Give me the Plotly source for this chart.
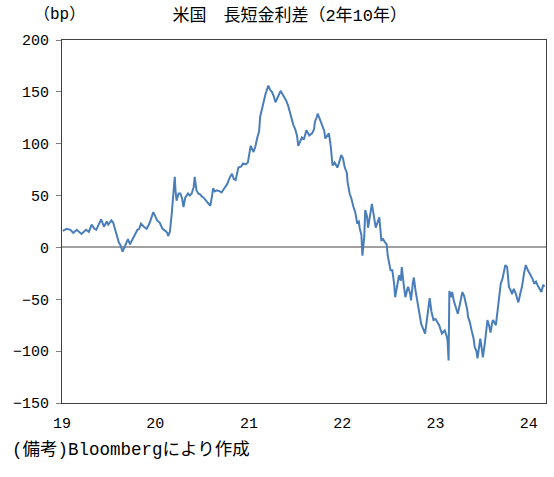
import plotly.graph_objects as go

# 米国 2年10年 長短金利差 (bp)
dates = [
    "2019-01-04", "2019-01-19", "2019-02-03", "2019-02-14", "2019-02-28", "2019-03-18",
    "2019-04-05", "2019-04-16", "2019-04-27", "2019-05-08", "2019-05-15", "2019-05-26",
    "2019-06-03", "2019-06-14", "2019-06-25", "2019-07-01", "2019-07-13", "2019-07-20",
    "2019-07-27", "2019-08-04", "2019-08-11", "2019-08-18", "2019-08-26", "2019-09-02",
    "2019-09-09", "2019-09-16", "2019-09-24", "2019-10-04", "2019-10-12", "2019-10-23",
    "2019-10-30", "2019-11-06", "2019-11-17", "2019-11-28", "2019-12-09", "2019-12-16",
    "2019-12-24",
    "2020-01-01", "2020-01-08", "2020-01-18", "2020-01-29", "2020-02-09", "2020-02-17",
    "2020-02-20", "2020-02-27", "2020-03-05", "2020-03-10", "2020-03-17", "2020-03-20",
    "2020-03-24", "2020-04-01", "2020-04-08", "2020-04-15", "2020-04-20", "2020-04-27",
    "2020-05-08", "2020-05-15", "2020-05-22", "2020-05-30", "2020-06-03", "2020-06-10",
    "2020-06-17", "2020-06-25", "2020-07-01", "2020-07-08", "2020-07-19", "2020-07-26",
    "2020-08-03", "2020-08-10", "2020-08-14", "2020-08-21", "2020-08-29", "2020-09-09",
    "2020-09-16", "2020-09-27", "2020-10-08", "2020-10-19", "2020-10-27", "2020-11-03",
    "2020-11-10", "2020-11-21", "2020-12-02", "2020-12-09", "2020-12-20", "2020-12-28",
    "2021-01-08", "2021-01-19", "2021-01-26", "2021-02-03", "2021-02-10", "2021-02-14",
    "2021-02-21", "2021-02-28", "2021-03-07", "2021-03-18", "2021-03-25", "2021-04-01",
    "2021-04-08", "2021-04-15", "2021-04-22", "2021-05-05", "2021-05-12", "2021-05-19",
    "2021-05-26", "2021-06-03", "2021-06-10", "2021-06-17", "2021-06-24", "2021-07-01",
    "2021-07-08", "2021-07-13", "2021-07-20", "2021-07-27", "2021-08-04", "2021-08-14",
    "2021-08-25", "2021-09-05", "2021-09-13", "2021-09-16", "2021-09-24", "2021-09-27",
    "2021-10-08", "2021-10-15", "2021-10-23", "2021-10-27", "2021-11-03", "2021-11-10",
    "2021-11-17", "2021-11-24", "2021-12-02", "2021-12-13", "2021-12-20", "2021-12-28",
    "2022-01-04", "2022-01-11", "2022-01-19", "2022-01-22", "2022-01-30", "2022-02-06",
    "2022-02-14", "2022-02-21", "2022-02-28", "2022-03-07", "2022-03-10", "2022-03-17",
    "2022-03-21", "2022-03-28", "2022-04-01", "2022-04-08", "2022-04-12", "2022-04-19",
    "2022-04-27", "2022-05-05", "2022-05-12", "2022-05-19", "2022-05-26", "2022-06-03",
    "2022-06-10", "2022-06-17", "2022-06-24", "2022-06-28", "2022-07-05", "2022-07-09",
    "2022-07-16", "2022-07-23", "2022-07-27", "2022-08-04", "2022-08-11", "2022-08-18",
    "2022-08-22", "2022-08-29", "2022-09-05", "2022-09-13", "2022-09-16", "2022-09-24",
    "2022-09-27", "2022-10-04", "2022-10-08", "2022-10-15", "2022-10-23", "2022-10-30",
    "2022-11-06", "2022-11-13", "2022-11-21", "2022-11-28", "2022-12-05", "2022-12-09",
    "2022-12-16", "2022-12-24",
    "2023-01-01", "2023-01-08", "2023-01-15", "2023-01-26", "2023-02-06", "2023-02-14",
    "2023-02-17", "2023-02-21", "2023-02-24", "2023-03-03", "2023-03-07", "2023-03-14",
    "2023-03-18", "2023-03-29", "2023-04-06", "2023-04-16", "2023-04-23", "2023-04-27",
    "2023-05-05", "2023-05-08", "2023-05-15", "2023-05-22", "2023-05-30", "2023-06-03",
    "2023-06-10", "2023-06-14", "2023-06-21", "2023-06-25", "2023-07-01", "2023-07-05",
    "2023-07-13", "2023-07-16", "2023-07-23", "2023-07-30", "2023-08-04", "2023-08-11",
    "2023-08-14", "2023-08-25", "2023-09-02", "2023-09-09", "2023-09-13", "2023-09-20",
    "2023-09-27", "2023-10-01", "2023-10-08", "2023-10-12", "2023-10-15", "2023-10-23",
    "2023-10-27", "2023-11-03", "2023-11-10", "2023-11-17", "2023-11-21", "2023-11-28",
    "2023-12-05", "2023-12-13", "2023-12-20", "2023-12-28",
    "2024-01-08", "2024-01-15", "2024-01-22", "2024-01-29", "2024-02-05", "2024-02-12",
    "2024-02-19", "2024-02-26", "2024-03-02",
]
spread = [
    16, 18, 17, 14, 17, 13,
    17, 15, 22, 18, 17, 22,
    27, 20, 25, 22, 26, 24,
    17, 12, 5, 2, -4, 0,
    5, 8, 3, 8, 13, 17,
    18, 23, 20, 18, 23, 28,
    34,
    30, 26, 24, 18, 16, 14,
    11, 15, 32, 50, 68, 55,
    45, 52, 52, 47, 39, 48,
    52, 50, 52, 58, 68, 55,
    52, 51, 49, 48, 45, 43,
    40, 50, 57, 54, 55, 54,
    53, 57, 61, 68, 71, 66,
    65, 77, 78, 81, 80, 82,
    98, 92, 97, 106, 112, 126,
    133, 143, 148, 156, 152, 150,
    146, 140, 144, 151, 148, 145,
    142, 137, 130, 122, 118, 114,
    108, 98, 103, 106, 104, 113,
    108, 110, 114, 121, 126, 129,
    122, 118, 112, 105, 108, 110,
    98, 79, 82, 77, 82, 89,
    86, 77, 72, 63, 52, 47,
    39, 34, 24, 25, 19, 12,
    -8, 10, 36, 30, 19, 30,
    42, 30, 19, 24, 29, 7,
    8, 5, 3, -8, -15, -22,
    -22, -35, -48, -35, -27, -32,
    -19, -35, -48, -40, -38, -45,
    -51, -35, -29, -42, -54, -64,
    -74, -78, -83, -70, -58, -49,
    -62, -70,
    -69, -72, -75, -83, -80, -86,
    -90, -109, -42, -48, -43, -52,
    -56, -64, -55, -43, -47, -51,
    -60, -67, -72, -80, -88, -96,
    -100, -107, -95, -88, -98, -106,
    -92, -83, -70, -76, -82, -72,
    -70, -75, -60, -42, -35, -30,
    -22, -17, -19, -28, -38, -42,
    -45, -40, -44, -50, -53, -45,
    -38, -25, -17, -22,
    -27, -30, -35, -33, -37, -40,
    -43, -36, -38,
]

yticks = [-150, -100, -50, 0, 50, 100, 150, 200]
year_ticks = ["2019-01-01", "2020-01-01", "2021-01-01", "2022-01-01", "2023-01-01", "2024-01-01"]
year_labels = ["19", "20", "21", "22", "23", "24"]

font_num = "Liberation Mono"
font_jp = "Liberation Mono, Noto Sans CJK JP"

fig = go.Figure()
fig.add_trace(go.Scatter(x=dates, y=spread, mode="lines",
                         line=dict(color="#4a7ebb", width=2), showlegend=False))

fig.update_layout(
    width=554, height=477,
    margin=dict(l=62, r=8, t=40, b=74),
    paper_bgcolor="white", plot_bgcolor="white",
    font=dict(family=font_num, color="black", size=15),
    title=dict(text="米国　長短金利差（2年10年）", x=0.523, y=0.969,
               xanchor="center", yanchor="middle",
               font=dict(family=font_jp, size=17, color="black")),
    xaxis=dict(range=["2019-01-01", "2024-03-08"], tickvals=year_ticks, ticktext=year_labels,
               showgrid=False, zeroline=False, showline=True, mirror=True,
               linecolor="#404040", linewidth=1, ticks="", ticklabelstandoff=6,
               tickfont=dict(family=font_num, size=15)),
    yaxis=dict(range=[-150, 200], tickvals=yticks, showgrid=False,
               zeroline=True, zerolinecolor="#a0a0a0", zerolinewidth=2,
               showline=True, mirror=True, linecolor="#404040", linewidth=1,
               ticks="outside", ticklen=5, tickcolor="#808080", ticklabelstandoff=4,
               tickfont=dict(family=font_num, size=15)),
    annotations=[
        dict(text="（bp）", xref="paper", yref="paper", x=-0.006, y=1.069,
             xanchor="center", yanchor="middle", showarrow=False,
             font=dict(family=font_jp, size=16)),
        dict(text="(備考)Bloombergにより作成", xref="paper", yref="paper", x=-0.1074, y=-0.129,
             xanchor="left", yanchor="middle", showarrow=False,
             font=dict(family=font_jp, size=17.5)),
    ],
)

# drop the default body margin so the figure sits at the window's top-left corner
fig.write_html("out.html", config={"displayModeBar": False},
               post_script="document.body.style.margin = '0';")
